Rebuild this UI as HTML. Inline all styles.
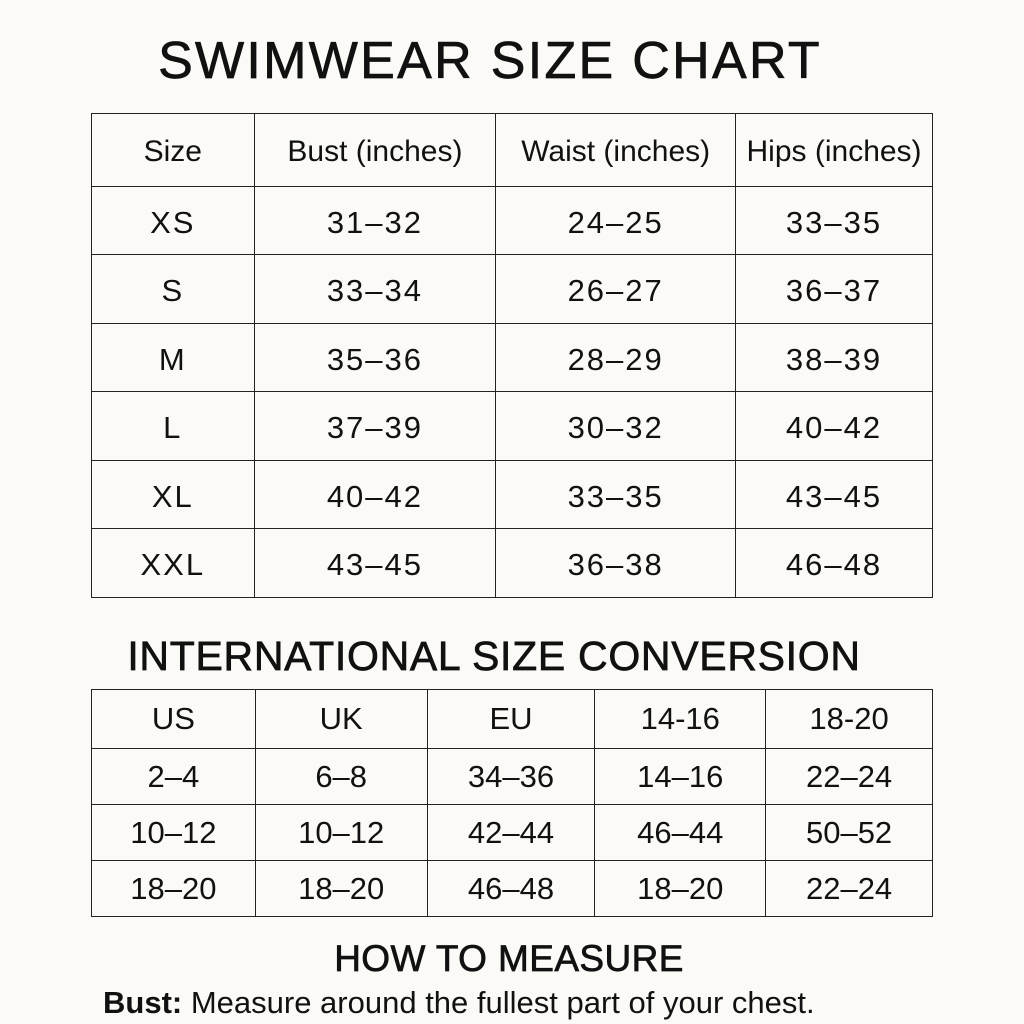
<!DOCTYPE html>
<html><head><meta charset="utf-8"><style>
body{margin:0;width:1024px;height:1024px;background:#fbfaf6;font-family:"Liberation Sans",sans-serif;color:#111;position:relative;overflow:hidden}
.t{position:absolute;left:0;width:1024px;text-align:center;white-space:nowrap;-webkit-text-stroke:0.7px #111}
table{position:absolute;border-collapse:collapse}
td{border:1.5px solid #222;text-align:center;padding:0;white-space:nowrap}
#t1{left:91px;top:113px;width:842px}
#t1 td{font-size:31px;letter-spacing:2px;padding-top:4px}
#t1 tr.h td{font-size:30px;letter-spacing:0}
#t2{left:91px;top:689px;width:842px}
#t2 td{font-size:31px}
</style></head><body>
<div class="t" style="top:31px;font-size:52px;letter-spacing:2.3px;left:-22px">SWIMWEAR SIZE CHART</div>
<table id="t1">
<colgroup><col style="width:163px"><col style="width:242px"><col style="width:240px"><col style="width:197px"></colgroup>
<tr class="h" style="height:73px"><td>Size</td><td>Bust (inches)</td><td>Waist (inches)</td><td>Hips (inches)</td></tr>
<tr style="height:68px"><td>XS</td><td>31–32</td><td>24–25</td><td>33–35</td></tr>
<tr style="height:69px"><td>S</td><td>33–34</td><td>26–27</td><td>36–37</td></tr>
<tr style="height:68px"><td>M</td><td>35–36</td><td>28–29</td><td>38–39</td></tr>
<tr style="height:69px"><td>L</td><td>37–39</td><td>30–32</td><td>40–42</td></tr>
<tr style="height:68px"><td>XL</td><td>40–42</td><td>33–35</td><td>43–45</td></tr>
<tr style="height:69px"><td>XXL</td><td>43–45</td><td>36–38</td><td>46–48</td></tr>
</table>
<div class="t" style="top:633px;font-size:41px;letter-spacing:0.7px;left:-18px">INTERNATIONAL SIZE CONVERSION</div>
<table id="t2">
<colgroup><col style="width:164px"><col style="width:172px"><col style="width:168px"><col style="width:171px"><col style="width:167px"></colgroup>
<tr style="height:59px"><td>US</td><td>UK</td><td>EU</td><td>14-16</td><td>18-20</td></tr>
<tr style="height:56px"><td>2–4</td><td>6–8</td><td>34–36</td><td>14–16</td><td>22–24</td></tr>
<tr style="height:56px"><td>10–12</td><td>10–12</td><td>42–44</td><td>46–44</td><td>50–52</td></tr>
<tr style="height:56px"><td>18–20</td><td>18–20</td><td>46–48</td><td>18–20</td><td>22–24</td></tr>
</table>
<div class="t" style="top:938px;font-size:37px;letter-spacing:0.4px;left:-3px">HOW TO MEASURE</div>
<div style="position:absolute;left:103px;top:985px;font-size:31px;white-space:nowrap"><b>Bust:</b> Measure around the fullest part of your chest.</div>
</body></html>
